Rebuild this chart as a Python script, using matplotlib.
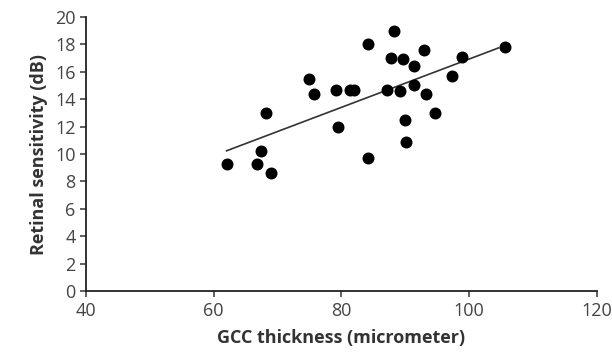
import matplotlib.pyplot as plt
import numpy as np

# GCC thickness (micrometer) vs retinal sensitivity (dB)
gcc_thickness = [62.0, 66.7, 67.4, 68.2, 69.0, 74.9, 75.7, 79.2, 79.4, 81.3,
                 81.9, 84.2, 84.1, 87.2, 87.8, 88.2, 89.1, 89.6, 89.9, 90.1,
                 91.3, 91.3, 92.9, 93.25, 94.7, 97.3, 98.8, 105.6]
retinal_sens = [9.3, 9.25, 10.2, 13.0, 8.6, 15.5, 14.4, 14.7, 12.0, 14.7,
                14.7, 18.0, 9.7, 14.7, 17.0, 19.0, 14.6, 16.9, 12.5, 10.9,
                16.4, 15.0, 17.6, 14.4, 13.0, 15.7, 17.1, 17.8]
x_ticks = [40, 60, 80, 100, 120]
y_ticks = list(range(0, 21, 2))

plt.rcParams['font.family'] = ['Open Sans', 'DejaVu Sans']

fig = plt.figure(figsize=(6.12, 3.59), dpi=100)
ax = fig.add_axes([0.1405, 0.189, 0.835, 0.764])

ax.scatter(gcc_thickness, retinal_sens, s=58, color='black', zorder=3)

# linear trend line over the data range
slope, intercept = np.polyfit(gcc_thickness, retinal_sens, 1)
xs = np.array([min(gcc_thickness), max(gcc_thickness) - 1])
ax.plot(xs, slope * xs + intercept, color='#333333', linewidth=1.2)

ax.set_xlim(40, 120)
ax.set_ylim(0, 20)
ax.set_xticks(x_ticks)
ax.set_yticks(y_ticks)

for side in ['top', 'right']:
    ax.spines[side].set_visible(False)
for side in ['left', 'bottom']:
    ax.spines[side].set_color('#222222')
    ax.spines[side].set_linewidth(1.3)

ax.tick_params(axis='both', direction='out', length=4, width=1.2,
               labelsize=13, colors='#444444')
ax.tick_params(axis='x', pad=4)

ax.set_xlabel('GCC thickness (micrometer)', fontsize=13, fontweight='bold',
              color='#333333', labelpad=6)
ax.set_ylabel('Retinal sensitivity (dB)', fontsize=13, fontweight='bold',
              color='#333333', labelpad=5)

plt.savefig('out.png', dpi=100)
